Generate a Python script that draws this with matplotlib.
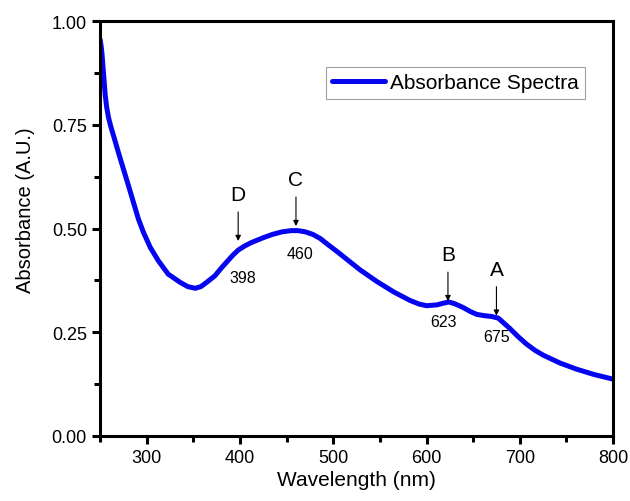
import matplotlib.pyplot as plt
from matplotlib.ticker import MultipleLocator

plt.rcParams['font.family'] = ['Liberation Sans', 'DejaVu Sans']

# Absorbance spectrum
wavelength = [250, 251, 252, 253.5, 255.4, 257, 259, 261.5, 264.3, 269.6, 275, 280.4, 285.7,
              291, 296.4, 303.6, 312.5, 323, 336, 344, 352, 358, 364, 373, 380, 386, 392,
              398, 405, 412, 425, 435, 445, 455, 462, 470, 478, 486, 495, 505, 515, 529,
              547, 565, 582, 592, 600, 611, 618, 624, 630, 639, 647, 654, 662, 670, 677,
              683, 689, 698, 707, 716, 725, 743, 761, 780, 800]
absorbance = [0.955, 0.94, 0.92, 0.876, 0.822, 0.792, 0.767, 0.745, 0.724, 0.683, 0.643, 0.603, 0.563,
              0.523, 0.491, 0.455, 0.422, 0.39, 0.37, 0.36, 0.356, 0.36, 0.37, 0.386, 0.405, 0.42, 0.435,
              0.448, 0.458, 0.466, 0.478, 0.486, 0.492, 0.495, 0.495, 0.492, 0.486, 0.476, 0.46, 0.443, 0.425, 0.40,
              0.372, 0.347, 0.327, 0.318, 0.314, 0.316, 0.32, 0.323, 0.319, 0.31, 0.30, 0.293, 0.29, 0.288, 0.284,
              0.272, 0.26, 0.24, 0.222, 0.207, 0.195, 0.176, 0.161, 0.148, 0.137]

# Peak markers
peak_letters = ["D", "C", "B", "A"]
peak_nm = [398, 460, 623, 675]

# arrow tip height, number label offsets (layout only)
tip_y = [0.47, 0.506, 0.325, 0.29]
num_dx = [5, 4, -5, 0]
num_dy = [-0.087, -0.065, -0.05, -0.051]

fig = plt.figure(figsize=(6.3, 5.02), dpi=100)
ax = fig.add_axes([0.159, 0.1295, 0.814, 0.8265])

ax.plot(wavelength, absorbance, color='#0505f0', lw=3.6, label='Absorbance Spectra',
        solid_capstyle='round', solid_joinstyle='round')

for letter, nm, y, dx, dy in zip(peak_letters, peak_nm, tip_y, num_dx, num_dy):
    ax.annotate('', xy=(nm, y), xytext=(nm, y + 0.07),
                arrowprops=dict(arrowstyle='-|>', color='black', lw=0.8,
                                mutation_scale=8, shrinkA=0, shrinkB=0))
    ax.text(nm, y + 0.112, letter, ha='center', va='center', fontsize=15)
    ax.text(nm + dx, y + dy, str(nm), ha='center', va='center', fontsize=11.5)

ax.set_xlim(250, 800)
ax.set_ylim(0, 1.0)
ax.xaxis.set_major_locator(MultipleLocator(100))
ax.xaxis.set_minor_locator(MultipleLocator(50))
ax.yaxis.set_major_locator(MultipleLocator(0.25))
ax.yaxis.set_minor_locator(MultipleLocator(0.125))
ax.yaxis.set_major_formatter(plt.FormatStrFormatter('%.2f'))

for s in ax.spines.values():
    s.set_linewidth(2.2)
ax.tick_params(which='major', length=6, width=2.2, labelsize=13, direction='out')
ax.tick_params(which='minor', length=4, width=2.2, direction='out')

ax.set_xlabel('Wavelength (nm)', fontsize=15, labelpad=3)
ax.set_ylabel('Absorbance (A.U.)', fontsize=14.5)
ax.yaxis.set_label_coords(-0.128, 0.547)

leg = ax.legend(loc='upper right', bbox_to_anchor=(0.945, 0.889), fontsize=15,
                fancybox=False, edgecolor='#888888', handlelength=2.5,
                handletextpad=0.25, borderpad=0.3, borderaxespad=0)
leg.get_frame().set_linewidth(0.8)

fig.savefig('out.png', dpi=100)
